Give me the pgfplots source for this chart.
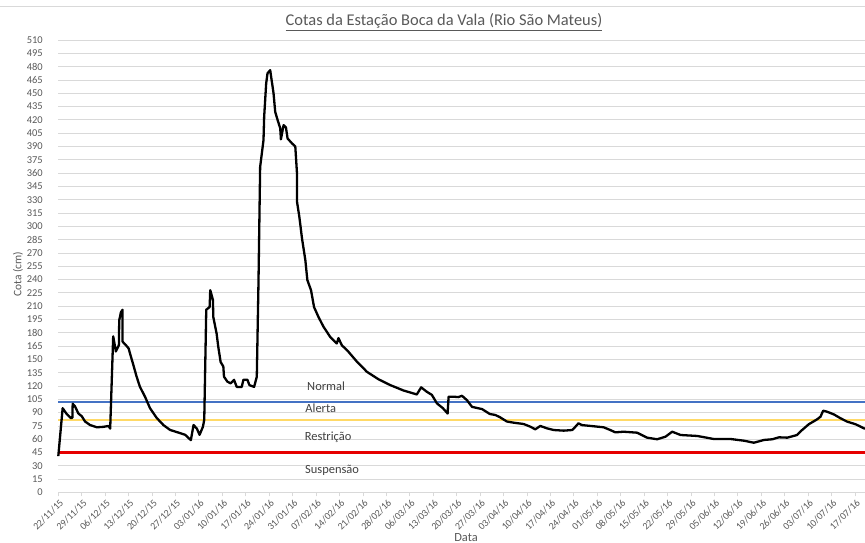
\documentclass[border=0pt]{standalone}
\usepackage{pgfplots}
\pgfplotsset{compat=1.18}
\usepackage{fontspec}
\setmainfont{Carlito}
\definecolor{gridc}{HTML}{D9D9D9}
\definecolor{txt}{HTML}{595959}
\definecolor{lblue}{HTML}{4472C4}
\definecolor{lyellow}{HTML}{FFD966}
\definecolor{lred}{HTML}{E60000}
\begin{document}
\begin{tikzpicture}[x=1bp,y=1bp]
\draw[gridc, line width=0.8bp] (0,537) -- (865,537);
\begin{axis}[
  at={(58.3bp,50.5bp)}, anchor=south west,
  scale only axis, width=806.7bp, height=452.5bp,
  xmin=0, xmax=241, ymin=0, ymax=510,
  ytick={0,15,...,510},
  xtick={0,7,...,238},
  xticklabels={22/11/15,29/11/15,06/12/15,13/12/15,20/12/15,27/12/15,03/01/16,10/01/16,17/01/16,24/01/16,31/01/16,07/02/16,14/02/16,21/02/16,28/02/16,06/03/16,13/03/16,20/03/16,27/03/16,03/04/16,10/04/16,17/04/16,24/04/16,01/05/16,08/05/16,15/05/16,22/05/16,29/05/16,05/06/16,12/06/16,19/06/16,26/06/16,03/07/16,10/07/16,17/07/16},
  ymajorgrids, major grid style={gridc, line width=0.8bp},
  axis x line*=bottom, axis y line*=left,
  x axis line style={gridc, line width=0.8bp, -},
  y axis line style={draw=none},
  tick align=outside,
  x tick style={gridc, line width=0.8bp},
  major x tick style={gridc}, xtick pos=bottom,
  y tick style={draw=none}, major tick length=4bp,
  ticklabel style={text=txt},
  yticklabel style={font=\fontsize{10.5}{12}\selectfont, xshift=-8bp},
  xticklabel style={font=\fontsize{10}{12}\selectfont, rotate=45, anchor=north east, inner sep=1bp, yshift=-1bp},
  /pgf/number format/assume math mode=true,
  clip=false,
]
\addplot[lblue, line width=2bp] coordinates {(0,102) (241,102)};
\addplot[lyellow, line width=2bp] coordinates {(0,82) (241,82)};
\addplot[lred, line width=2.2bp] coordinates {(0,45) (241,45)};
\addplot[black, line width=2.3bp, line join=round] coordinates {
(0,41) (1.3,95) (2.5,88.5) (3.7,84) (4.2,84) (4.3,100) (5,97) (6,89) (7,86) (8,80) (9.5,76) (11.5,73.5) (13.5,74) (15,75) (15.5,72) (16.4,176) (17.2,159) (18.1,166) (18.2,194) (18.7,203) (19.2,206) (19.2,170) (20.2,166) (21,162.5) (21.4,157) (22.4,144) (23.4,130.5) (24.4,119) (25.9,108) (27.4,95) (29.4,84) (31.4,76) (33.4,70.5) (35.9,67.5) (37.9,65) (39.6,59) (40.4,76) (41.4,72) (42.2,65) (43.2,74) (43.6,82) (44.2,206) (45.2,209) (45.4,228) (46.2,217) (46.3,198) (47.3,179) (47.8,164) (48.5,147) (49.3,142) (49.5,130.5) (50.5,125) (51.5,123) (52.5,127) (53.3,119) (54.8,119) (55.3,127) (56.5,127) (57.1,121) (58.5,119) (59.3,130.5) (59.8,236) (60.3,367) (60.8,382) (61.3,397) (61.5,423.5) (62.1,461) (62.5,472.5) (63.3,476) (64.3,450) (64.8,429) (65.5,420) (66.3,410.5) (66.5,398) (67.3,414) (68,411.5) (68.5,399) (69.8,393.5) (70.8,390) (71.3,360) (71.3,328) (72,311) (72.8,286.5) (73.8,262) (74.4,239.5) (75.5,228) (76.4,209) (77.7,198) (79.2,187) (81.2,175.5) (83.2,168) (83.7,174) (84.7,166) (86.7,158.5) (89.2,147.5) (92.2,136) (95.7,127.5) (99.2,121) (103.1,115) (107.1,110.5) (108.4,118.5) (110.1,113.5) (111.6,110) (113.1,100.5) (114.9,95) (116.3,89) (116.6,108) (118.1,108) (119.5,107.5) (120.6,109) (122.1,104) (123.6,96.5) (126.6,94) (128.9,88.5) (130.6,87.3) (132,84.7) (134,80) (136,78.7) (139,77.2) (141,74.2) (142.5,71.2) (144,75) (146,72.3) (148,70.4) (151,69.7) (153.5,70.4) (154.5,74.2) (155.4,78) (156.4,76) (159,75) (162.9,73.5) (164.9,70.4) (166.4,67.8) (168.9,68.5) (172.9,67.4) (175.9,61.8) (178.9,60) (181.4,62.9) (183.4,68.5) (185.9,64.8) (190.9,63.7) (195.8,60.3) (200.8,60.3) (204.8,58.4) (207.8,56.1) (210.8,59.2) (213.3,60) (215.3,62.2) (217.8,61.8) (220.7,64.8) (222.2,70.4) (224.2,76.9) (226.7,82.5) (227.7,85.4) (228.5,92.2) (229.7,91) (231.7,88) (233.7,83.6) (235.7,79.8) (238.2,76.9) (240.7,72.3) (241,72)
};
\node[font=\fontsize{12.5}{14}\selectfont, text=black!75] at (axis cs:80,120) {Normal};
\node[font=\fontsize{12.5}{14}\selectfont, text=black!75] at (axis cs:78.4,94.5) {Alerta};
\node[font=\fontsize{12.5}{14}\selectfont, text=black!75] at (axis cs:80.6,62) {Restrição};
\node[font=\fontsize{12.5}{14}\selectfont, text=black!75] at (axis cs:81.8,25) {Suspensão};
\end{axis}
\node[font=\fontsize{16.5}{19}\selectfont, text=txt] at (444,521) {\underline{Cotas da Estação Boca da Vala (Rio São Mateus)}};
\node[rotate=90, font=\fontsize{11.5}{13}\selectfont, text=txt] at (18,269) {Cota (cm)};
\node[anchor=base, font=\fontsize{12.5}{14}\selectfont, text=txt, inner sep=0pt] at (466,1.5) {Data};
\pgfresetboundingbox
\path[use as bounding box] (0,0) rectangle (865,543);
\end{tikzpicture}
\end{document}
